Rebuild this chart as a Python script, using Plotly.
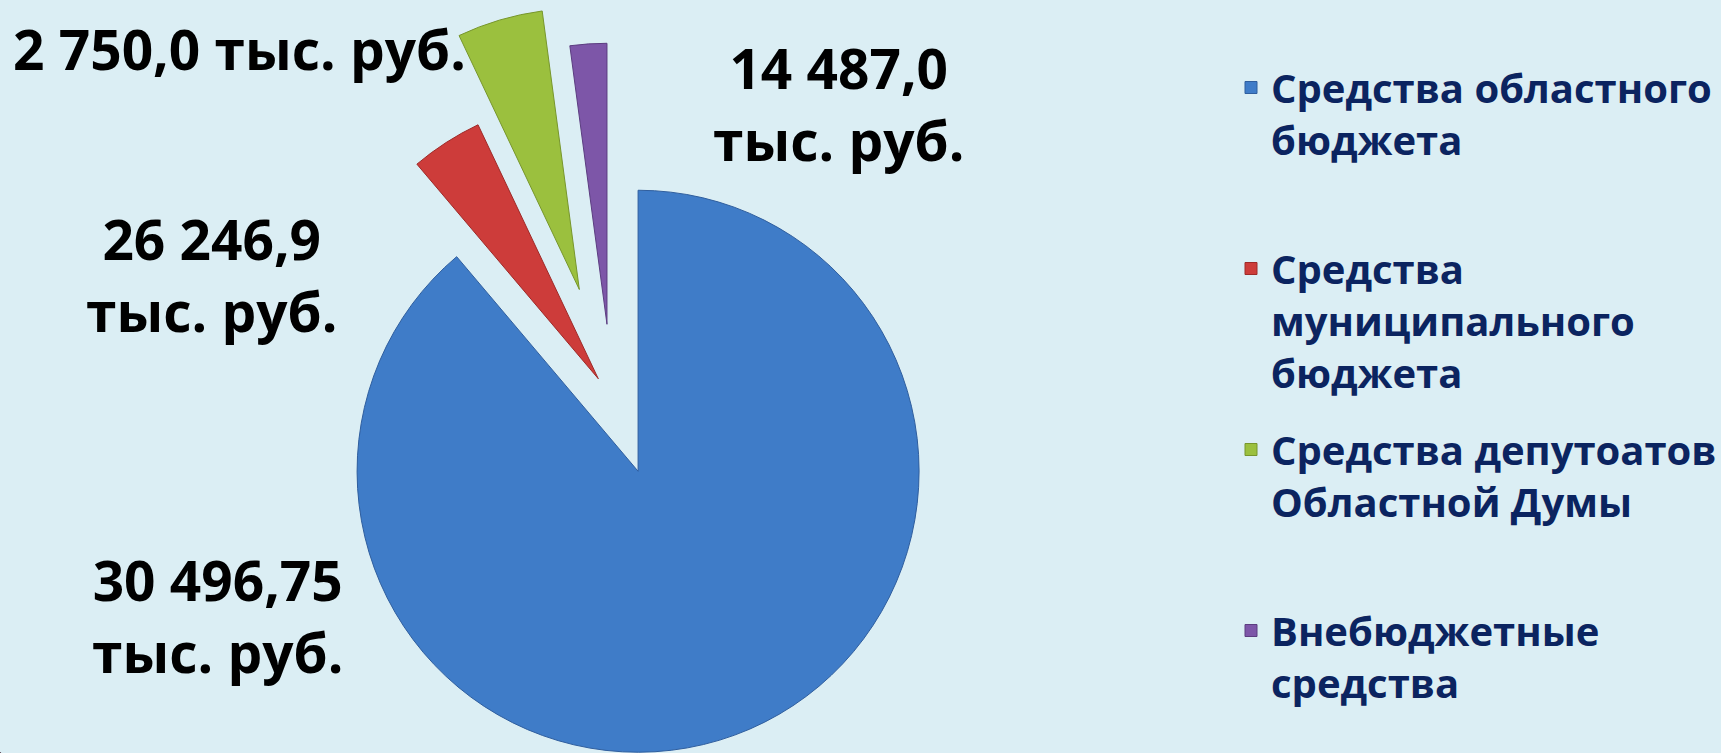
import math
import plotly.graph_objects as go

# ---------------- data ----------------
categories = [
    "Средства областного<br>бюджета",
    "Средства<br>муниципального<br>бюджета",
    "Средства депутоатов<br>Областной Думы",
    "Внебюджетные<br>средства",
]
# slice sizes as drawn in the picture (% of the circle)
shares = [88.83, 4.13, 4.93, 2.11]
value_labels = [
    "30 496,75<br>тыс. руб.",
    "26 246,9<br>тыс. руб.",
    "2 750,0 тыс. руб.",
    "14 487,0<br>тыс. руб.",
]

# ---------------- style / layout ----------------
colors = ["#3F7CC8", "#CD3C3A", "#9BC03E", "#7D56A8"]
edges = ["#2F5E9E", "#9E2A28", "#77962C", "#5C3D80"]
bg = "#DBEEF4"
W, H = 1721, 753
R = 281                      # pie radius, px
CX, CY = 612, 400            # un-exploded pie centre, px
pulls = [0.27, 0.09, 0.41, 0.27]   # explosion of each slice (fraction of R)
legend_pad = [1, 0, 1, 0]    # blank lines after each legend entry
label_pos = [(217, 615), (211, 274), (11, 49), (838, 104)]
label_anchor = ["center", "center", "left", "center"]

fig = go.Figure()
total = sum(shares)
cum = 0.0
for i, v in enumerate(shares):
    mid = (cum + v / 2) / total * 2 * math.pi   # clockwise from 12 o'clock
    cum += v
    d = pulls[i] * R
    cx = CX + d * math.sin(mid)
    cy = CY - d * math.cos(mid)
    y0 = max(0.0, 1 - (cy + R) / H)
    fig.add_trace(go.Pie(
        values=shares,
        labels=categories,
        sort=False,
        direction="clockwise",
        rotation=0,
        textinfo="none",
        hoverinfo="label+percent",
        showlegend=False,
        marker=dict(
            colors=[colors[j] if j == i else "rgba(0,0,0,0)" for j in range(len(shares))],
            line=dict(color=[edges[j] if j == i else "rgba(0,0,0,0)" for j in range(len(shares))],
                      width=1),
        ),
        domain=dict(x=[(cx - R) / W, (cx + R) / W],
                    y=[y0, 1 - (cy - R) / H]),
    ))

# legend entries (one tiny pie per category so each gets its own legend group)
for i, v in enumerate(shares):
    fig.add_trace(go.Pie(
        values=[v],
        labels=[categories[i] + "<br>&nbsp;" * legend_pad[i]],
        marker=dict(colors=[colors[i]], line=dict(color=edges[i], width=1)),
        textinfo="none",
        hoverinfo="skip",
        legendgroup=f"g{i}",
        showlegend=True,
        domain=dict(x=[0, 0.0004], y=[0, 0.0004]),
    ))

for i, t in enumerate(value_labels):
    x, y = label_pos[i]
    fig.add_annotation(
        x=x / W, y=1 - y / H, xref="paper", yref="paper",
        text=t, showarrow=False, align="center",
        xanchor=label_anchor[i], yanchor="middle",
        font=dict(family="Open Sans", size=55, color="#000000", weight="bold"),
    )

fig.update_layout(
    width=W, height=H,
    paper_bgcolor=bg, plot_bgcolor=bg,
    margin=dict(l=0, r=0, t=0, b=0, autoexpand=False),
    showlegend=True,
    legend=dict(
        x=1231 / W, y=1 - 55 / H, xanchor="left", yanchor="top",
        bgcolor="rgba(0,0,0,0)", valign="top", tracegroupgap=22,
        font=dict(family="Open Sans", size=40, color="#0B2460", weight="bold"),
    ),
)

fig.write_html(
    "out.html",
    config={"displayModeBar": False},
    post_script="document.body.style.margin='0';document.body.style.overflow='hidden';",
)
